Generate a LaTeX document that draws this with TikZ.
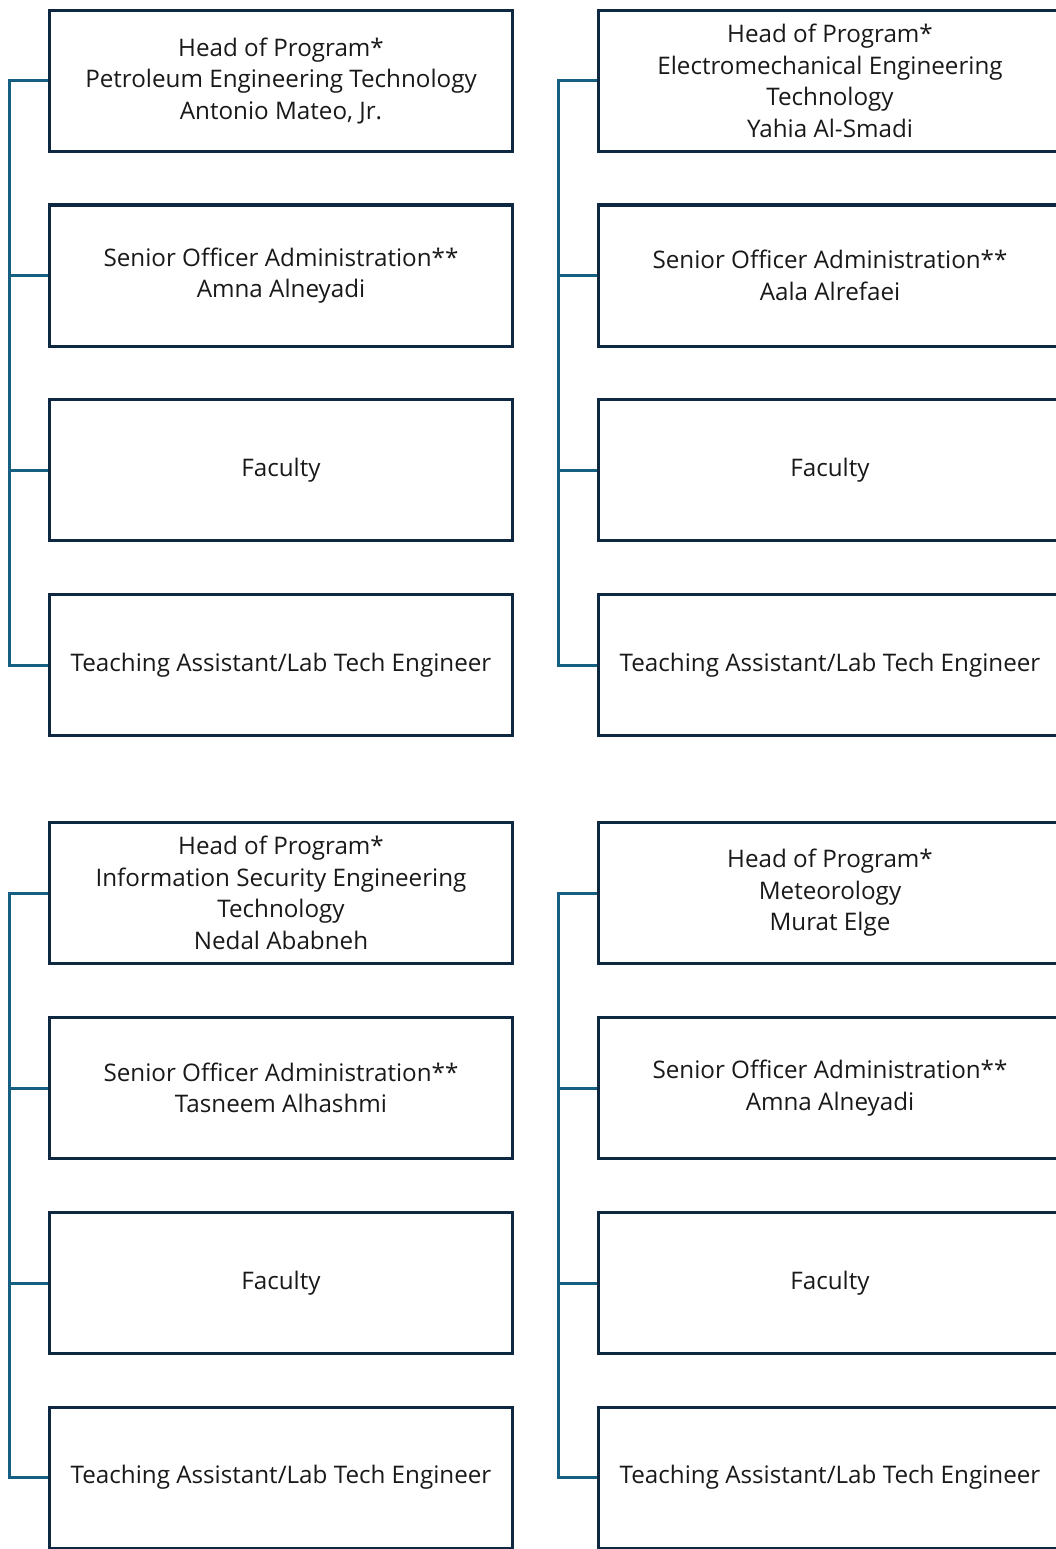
\documentclass[tikz,border=0pt]{standalone}
\usepackage{fontspec}
\setmainfont{Open Sans}[Ligatures=NoCommon]
\definecolor{boxline}{HTML}{0E2841}
\definecolor{linkline}{HTML}{156082}
\begin{document}
\begin{tikzpicture}[x=1pt,y=-1pt,
  unit/.style={draw=boxline, line width=3pt, minimum width=463pt, minimum height=141pt,
    inner sep=0pt, align=center, text=black!90,
    font=\fontsize{24.2}{31.5}\selectfont},
  link/.style={draw=linkline, line width=3pt}]
\useasboundingbox (0,0) rectangle (1056,1549);
\clip (0,0) rectangle (1056,1549);

% upper left group
\node[unit] (a1) at (281,81)    {Head of Program*\\Petroleum Engineering Technology\\Antonio Mateo, Jr.};
\node[unit] (a2) at (281,275.5) {Senior Officer Administration**\\Amna Alneyadi};
\node[unit] (a3) at (281,470)   {Faculty};
\node[unit] (a4) at (281,665)   {Teaching Assistant/Lab Tech Engineer};

% upper right group
\node[unit] (b1) at (830,81)    {Head of Program*\\Electromechanical Engineering\\Technology\\Yahia Al-Smadi};
\node[unit] (b2) at (830,275.5) {Senior Officer Administration**\\Aala Alrefaei};
\node[unit] (b3) at (830,470)   {Faculty};
\node[unit] (b4) at (830,665)   {Teaching Assistant/Lab Tech Engineer};

% lower left group
\node[unit] (c1) at (281,893)    {Head of Program*\\Information Security Engineering\\Technology\\Nedal Ababneh};
\node[unit] (c2) at (281,1088)   {Senior Officer Administration**\\Tasneem Alhashmi};
\node[unit] (c3) at (281,1283)   {Faculty};
\node[unit] (c4) at (281,1477.5) {Teaching Assistant/Lab Tech Engineer};

% lower right group
\node[unit] (d1) at (830,893)    {Head of Program*\\Meteorology\\Murat Elge};
\node[unit] (d2) at (830,1088)   {Senior Officer Administration**\\Amna Alneyadi};
\node[unit] (d3) at (830,1283)   {Faculty};
\node[unit] (d4) at (830,1477.5) {Teaching Assistant/Lab Tech Engineer};

% spines on the left of each group
\coordinate (sl) at (9,0);
\coordinate (sr) at (558,0);
\foreach \g/\s in {a/sl,b/sr,c/sl,d/sr}{
  \draw[link, line join=miter] (\g1.west) -- (\s |- \g1.west) -- (\s |- \g4.west) -- (\g4.west);
  \draw[link] (\g2.west) -- (\s |- \g2.west);
  \draw[link] (\g3.west) -- (\s |- \g3.west);
}
\end{tikzpicture}
\end{document}
